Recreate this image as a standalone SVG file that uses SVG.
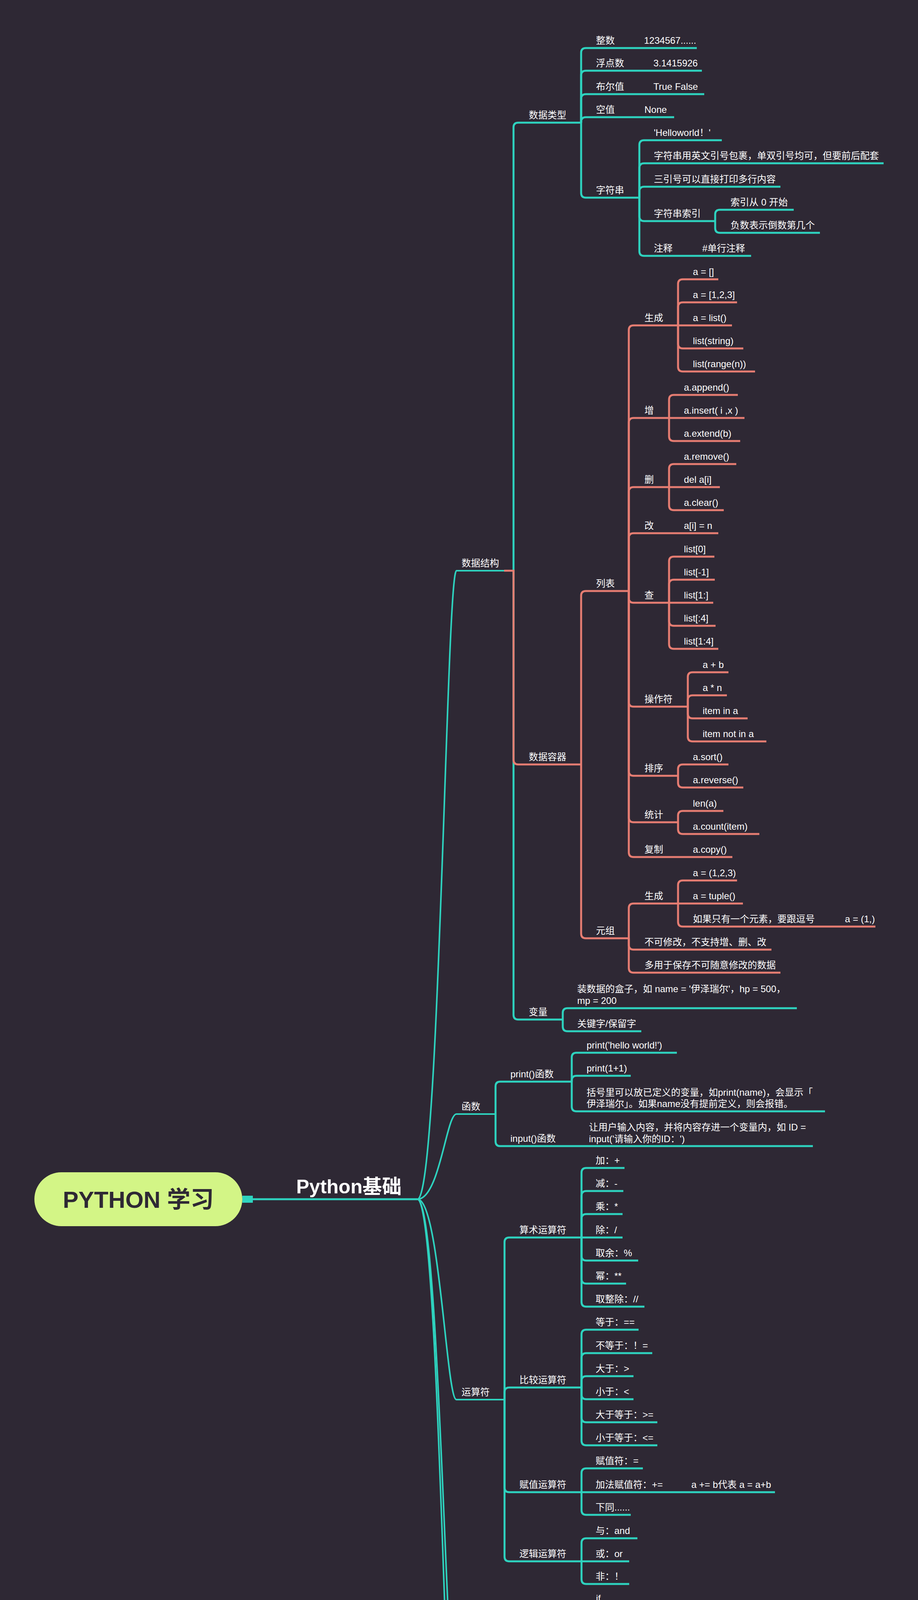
<svg xmlns="http://www.w3.org/2000/svg" width="2349" height="4769" viewBox="0 0 2349 4769">
<style>
.t{font-family:"Liberation Sans","Noto Sans CJK SC",sans-serif;font-size:24px;fill:#ffffff}
.c{fill:none;stroke:#2ed3bf;stroke-width:5}
.s{stroke:#e67d72}
.b{stroke-width:4}
</style>
<rect width="2349" height="4769" fill="#2e2834"/>
<g id="connectors">
<rect x="620" y="3061" width="27" height="18" fill="#2ed3bf"/>
<path class="c" d="M640,3070 H1068"/>
<path class="c b" d="M1068,3070 C1125,3070 1142,1461 1168,1461 H1314"/>
<path class="c b" d="M1068,3070 C1125,3070 1142,2852 1168,2852 H1268"/>
<path class="c b" d="M1068,3070 C1125,3070 1142,3583 1168,3583 H1291"/>
<path class="c b" d="M1068,3070 C1125,3070 1142,4391 1168,4391 H1315"/>
<path class="c b" d="M1068,3070 C1125,3070 1142,4677 1168,4677 H1361"/>
<path class="c" d="M1314,1461 V326 Q1314,314 1326,314 H1487"/>
<path class="c" d="M1314,1461 V2598 Q1314,2610 1326,2610 H1440"/>
<path class="c" d="M1487,314 V135 Q1487,123 1499,123 H1783"/>
<path class="c" d="M1487,314 V193 Q1487,181 1499,181 H1796"/>
<path class="c" d="M1487,314 V253 Q1487,241 1499,241 H1802"/>
<path class="c" d="M1487,314 V312 Q1487,300 1499,300 H1725"/>
<path class="c" d="M1487,314 V494 Q1487,506 1499,506 H1636"/>
<path class="c" d="M1636,506 V371 Q1636,359 1648,359 H1847"/>
<path class="c" d="M1636,506 V430 Q1636,418 1648,418 H2261"/>
<path class="c" d="M1636,506 V490 Q1636,478 1648,478 H1997"/>
<path class="c" d="M1636,506 V554 Q1636,566 1648,566 H1830"/>
<path class="c" d="M1636,506 V643 Q1636,655 1648,655 H1922"/>
<path class="c" d="M1830,566 V549 Q1830,537 1842,537 H2031"/>
<path class="c" d="M1830,566 V584 Q1830,596 1842,596 H2098"/>
<path class="c" d="M1440,2610 V2593 Q1440,2581 1452,2581 H2039"/>
<path class="c" d="M1440,2610 V2628 Q1440,2640 1452,2640 H1641"/>
<path class="c" d="M1268,2852 V2781 Q1268,2769 1280,2769 H1463"/>
<path class="c" d="M1268,2852 V2922 Q1268,2934 1280,2934 H2080"/>
<path class="c" d="M1463,2769 V2707 Q1463,2695 1475,2695 H1732"/>
<path class="c" d="M1463,2769 V2766 Q1463,2754 1475,2754 H1614"/>
<path class="c" d="M1463,2769 V2833 Q1463,2845 1475,2845 H2111"/>
<path class="c" d="M1291,3583 V3180 Q1291,3168 1303,3168 H1488"/>
<path class="c" d="M1291,3583 V3564 Q1291,3552 1303,3552 H1488"/>
<path class="c" d="M1291,3583 V3808 Q1291,3820 1303,3820 H1488"/>
<path class="c" d="M1291,3583 V3985 Q1291,3997 1303,3997 H1488"/>
<path class="c" d="M1488,3168 V3002 Q1488,2990 1500,2990 H1598"/>
<path class="c" d="M1488,3168 V3061 Q1488,3049 1500,3049 H1595"/>
<path class="c" d="M1488,3168 V3120 Q1488,3108 1500,3108 H1593"/>
<path class="c" d="M1488,3168 H1593"/>
<path class="c" d="M1488,3168 V3215 Q1488,3227 1500,3227 H1633"/>
<path class="c" d="M1488,3168 V3274 Q1488,3286 1500,3286 H1602"/>
<path class="c" d="M1488,3168 V3333 Q1488,3345 1500,3345 H1649"/>
<path class="c" d="M1488,3552 V3416 Q1488,3404 1500,3404 H1634"/>
<path class="c" d="M1488,3552 V3476 Q1488,3464 1500,3464 H1669"/>
<path class="c" d="M1488,3552 V3535 Q1488,3523 1500,3523 H1621"/>
<path class="c" d="M1488,3552 V3570 Q1488,3582 1500,3582 H1621"/>
<path class="c" d="M1488,3552 V3629 Q1488,3641 1500,3641 H1682"/>
<path class="c" d="M1488,3552 V3688 Q1488,3700 1500,3700 H1682"/>
<path class="c" d="M1488,3820 V3771 Q1488,3759 1500,3759 H1645"/>
<path class="c" d="M1488,3820 H1983"/>
<path class="c" d="M1488,3820 V3866 Q1488,3878 1500,3878 H1614"/>
<path class="c" d="M1488,3997 V3950 Q1488,3938 1500,3938 H1631"/>
<path class="c" d="M1488,3997 H1610"/>
<path class="c" d="M1488,3997 V4043 Q1488,4055 1500,4055 H1610"/>
<path class="c" d="M1315,4391 V4260 Q1315,4248 1327,4248 H1487"/>
<path class="c" d="M1315,4391 V4520 Q1315,4532 1327,4532 H1440"/>
<path class="c" d="M1487,4248 V4123 Q1487,4111 1499,4111 H1552"/>
<path class="c" d="M1487,4248 V4314 Q1487,4326 1499,4326 H1832"/>
<path class="c" d="M1487,4248 V4373 Q1487,4385 1499,4385 H1583"/>
<path class="c" d="M1440,4532 V4456 Q1440,4444 1452,4444 H1891"/>
<path class="c" d="M1440,4532 V4516 Q1440,4504 1452,4504 H2069"/>
<path class="c" d="M1440,4532 V4551 Q1440,4563 1452,4563 H1729"/>
<path class="c" d="M1440,4532 V4610 Q1440,4622 1452,4622 H1815"/>
<path class="c s" d="M1290,1461 H1314 V1945 Q1314,1957 1326,1957 H1487"/>
<path class="c s" d="M1487,1957 V1525 Q1487,1513 1499,1513 H1609"/>
<path class="c s" d="M1487,1957 V2390 Q1487,2402 1499,2402 H1609"/>
<path class="c s" d="M1609,1513 V845 Q1609,833 1621,833 H1735"/>
<path class="c s" d="M1609,1513 V1082 Q1609,1070 1621,1070 H1712"/>
<path class="c s" d="M1609,1513 V1259 Q1609,1247 1621,1247 H1712"/>
<path class="c s" d="M1609,1513 V1377 Q1609,1365 1621,1365 H1838"/>
<path class="c s" d="M1609,1513 V1531 Q1609,1543 1621,1543 H1712"/>
<path class="c s" d="M1609,1513 V1797 Q1609,1809 1621,1809 H1760"/>
<path class="c s" d="M1609,1513 V1974 Q1609,1986 1621,1986 H1735"/>
<path class="c s" d="M1609,1513 V2093 Q1609,2105 1621,2105 H1735"/>
<path class="c s" d="M1609,1513 V2182 Q1609,2194 1621,2194 H1874"/>
<path class="c s" d="M1735,833 V727 Q1735,715 1747,715 H1838"/>
<path class="c s" d="M1735,833 V786 Q1735,774 1747,774 H1886"/>
<path class="c s" d="M1735,833 H1873"/>
<path class="c s" d="M1735,833 V880 Q1735,892 1747,892 H1902"/>
<path class="c s" d="M1735,833 V939 Q1735,951 1747,951 H1932"/>
<path class="c s" d="M1712,1070 V1023 Q1712,1011 1724,1011 H1888"/>
<path class="c s" d="M1712,1070 H1905"/>
<path class="c s" d="M1712,1070 V1117 Q1712,1129 1724,1129 H1894"/>
<path class="c s" d="M1712,1247 V1200 Q1712,1188 1724,1188 H1884"/>
<path class="c s" d="M1712,1247 H1842"/>
<path class="c s" d="M1712,1247 V1294 Q1712,1306 1724,1306 H1852"/>
<path class="c s" d="M1712,1543 V1437 Q1712,1425 1724,1425 H1828"/>
<path class="c s" d="M1712,1543 V1496 Q1712,1484 1724,1484 H1829"/>
<path class="c s" d="M1712,1543 H1825"/>
<path class="c s" d="M1712,1543 V1590 Q1712,1602 1724,1602 H1831"/>
<path class="c s" d="M1712,1543 V1649 Q1712,1661 1724,1661 H1838"/>
<path class="c s" d="M1760,1809 V1733 Q1760,1721 1772,1721 H1864"/>
<path class="c s" d="M1760,1809 V1792 Q1760,1780 1772,1780 H1860"/>
<path class="c s" d="M1760,1809 V1827 Q1760,1839 1772,1839 H1913"/>
<path class="c s" d="M1760,1809 V1886 Q1760,1898 1772,1898 H1961"/>
<path class="c s" d="M1735,1986 V1969 Q1735,1957 1747,1957 H1864"/>
<path class="c s" d="M1735,1986 V2004 Q1735,2016 1747,2016 H1902"/>
<path class="c s" d="M1735,2105 V2088 Q1735,2076 1747,2076 H1851"/>
<path class="c s" d="M1735,2105 V2123 Q1735,2135 1747,2135 H1943"/>
<path class="c s" d="M1609,2402 V2325 Q1609,2313 1621,2313 H1735"/>
<path class="c s" d="M1609,2402 V2419 Q1609,2431 1621,2431 H1974"/>
<path class="c s" d="M1609,2402 V2478 Q1609,2490 1621,2490 H1997"/>
<path class="c s" d="M1735,2313 V2266 Q1735,2254 1747,2254 H1886"/>
<path class="c s" d="M1735,2313 H1901"/>
<path class="c s" d="M1735,2313 V2360 Q1735,2372 1747,2372 H2240"/>
</g>
<g id="root">
<rect x="88" y="3001" width="532" height="138" rx="69" fill="#d3f586"/>
<text x="354" y="3092" text-anchor="middle" style="font-family:'Liberation Sans','Noto Sans CJK SC',sans-serif;font-size:60px;font-weight:700;fill:#2e2834">PYTHON 学习</text>
</g>
<g id="python-basics"><text x="758" y="3055" style="font-family:'Liberation Sans','Noto Sans CJK SC',sans-serif;font-size:50px;font-weight:700;fill:#ffffff">Python基础</text></g>
<g id="data-structure"><text class="t" x="1181" y="1450">数据结构</text></g>
<g id="data-types"><text class="t" x="1353" y="303">数据类型</text></g>
<g id="int"><text class="t" x="1525" y="112">整数</text><text class="t" x="1648" y="112">1234567......</text></g>
<g id="float"><text class="t" x="1525" y="170">浮点数</text><text class="t" x="1672" y="170">3.1415926</text></g>
<g id="bool"><text class="t" x="1525" y="230">布尔值</text><text class="t" x="1672" y="230">True False</text></g>
<g id="none"><text class="t" x="1525" y="289">空值</text><text class="t" x="1649" y="289">None</text></g>
<g id="string"><text class="t" x="1525" y="495">字符串</text></g>
<g id="str-hello"><text class="t" x="1673" y="348">'Helloworld！'</text></g>
<g id="str-quote"><text class="t" x="1673" y="407">字符串用英文引号包裹，单双引号均可，但要前后配套</text></g>
<g id="str-triple"><text class="t" x="1673" y="467">三引号可以直接打印多行内容</text></g>
<g id="str-index"><text class="t" x="1673" y="555">字符串索引</text></g>
<g id="idx-zero"><text class="t" x="1869" y="526">索引从 0 开始</text></g>
<g id="idx-neg"><text class="t" x="1869" y="585">负数表示倒数第几个</text></g>
<g id="comment"><text class="t" x="1673" y="644">注释</text><text class="t" x="1797" y="644">#单行注释</text></g>
<g id="container"><text class="t" x="1353" y="1946">数据容器</text></g>
<g id="list"><text class="t" x="1525" y="1502">列表</text></g>
<g id="list-gen"><text class="t" x="1649" y="822">生成</text></g>
<g id="lg1"><text class="t" x="1773" y="704">a = []</text></g>
<g id="lg2"><text class="t" x="1773" y="763">a = [1,2,3]</text></g>
<g id="lg3"><text class="t" x="1773" y="822">a = list()</text></g>
<g id="lg4"><text class="t" x="1773" y="881">list(string)</text></g>
<g id="lg5"><text class="t" x="1773" y="940">list(range(n))</text></g>
<g id="list-add"><text class="t" x="1649" y="1059">增</text></g>
<g id="la1"><text class="t" x="1750" y="1000">a.append()</text></g>
<g id="la2"><text class="t" x="1750" y="1059">a.insert( i ,x )</text></g>
<g id="la3"><text class="t" x="1750" y="1118">a.extend(b)</text></g>
<g id="list-del"><text class="t" x="1649" y="1236">删</text></g>
<g id="ld1"><text class="t" x="1750" y="1177">a.remove()</text></g>
<g id="ld2"><text class="t" x="1750" y="1236">del a[i]</text></g>
<g id="ld3"><text class="t" x="1750" y="1295">a.clear()</text></g>
<g id="list-mod"><text class="t" x="1649" y="1354">改</text><text class="t" x="1750" y="1354">a[i] = n</text></g>
<g id="list-find"><text class="t" x="1649" y="1532">查</text></g>
<g id="lf1"><text class="t" x="1750" y="1414">list[0]</text></g>
<g id="lf2"><text class="t" x="1750" y="1473">list[-1]</text></g>
<g id="lf3"><text class="t" x="1750" y="1532">list[1:]</text></g>
<g id="lf4"><text class="t" x="1750" y="1591">list[:4]</text></g>
<g id="lf5"><text class="t" x="1750" y="1650">list[1:4]</text></g>
<g id="list-op"><text class="t" x="1649" y="1798">操作符</text></g>
<g id="lo1"><text class="t" x="1798" y="1710">a + b</text></g>
<g id="lo2"><text class="t" x="1798" y="1769">a * n</text></g>
<g id="lo3"><text class="t" x="1798" y="1828">item in a</text></g>
<g id="lo4"><text class="t" x="1798" y="1887">item not in a</text></g>
<g id="list-sort"><text class="t" x="1649" y="1975">排序</text></g>
<g id="ls1"><text class="t" x="1773" y="1946">a.sort()</text></g>
<g id="ls2"><text class="t" x="1773" y="2005">a.reverse()</text></g>
<g id="list-count"><text class="t" x="1649" y="2094">统计</text></g>
<g id="lc1"><text class="t" x="1773" y="2065">len(a)</text></g>
<g id="lc2"><text class="t" x="1773" y="2124">a.count(item)</text></g>
<g id="list-copy"><text class="t" x="1649" y="2183">复制</text><text class="t" x="1773" y="2183">a.copy()</text></g>
<g id="tuple"><text class="t" x="1525" y="2391">元组</text></g>
<g id="tuple-gen"><text class="t" x="1649" y="2302">生成</text></g>
<g id="tg1"><text class="t" x="1773" y="2243">a = (1,2,3)</text></g>
<g id="tg2"><text class="t" x="1773" y="2302">a = tuple()</text></g>
<g id="tg3"><text class="t" x="1773" y="2361">如果只有一个元素，要跟逗号</text><text class="t" x="2162" y="2361">a = (1,)</text></g>
<g id="tuple-imm"><text class="t" x="1649" y="2420">不可修改，不支持增、删、改</text></g>
<g id="tuple-use"><text class="t" x="1649" y="2479">多用于保存不可随意修改的数据</text></g>
<g id="variable"><text class="t" x="1353" y="2599">变量</text></g>
<g id="var-box"><text class="t" x="1477" y="2540">装数据的盒子，如 name = '伊泽瑞尔'，hp = 500，</text><text class="t" x="1477" y="2570">mp = 200</text></g>
<g id="var-kw"><text class="t" x="1477" y="2629">关键字/保留字</text></g>
<g id="function"><text class="t" x="1181" y="2841">函数</text></g>
<g id="print-fn"><text class="t" x="1306" y="2758">print()函数</text></g>
<g id="pf1"><text class="t" x="1501" y="2684">print('hello world!')</text></g>
<g id="pf2"><text class="t" x="1501" y="2743">print(1+1)</text></g>
<g id="pf3"><text class="t" x="1501" y="2805">括号里可以放已定义的变量，如print(name)，会显示「</text><text class="t" x="1501" y="2834">伊泽瑞尔」。如果name没有提前定义，则会报错。</text></g>
<g id="input-fn"><text class="t" x="1306" y="2923">input()函数</text></g>
<g id="if1"><text class="t" x="1507" y="2894">让用户输入内容，并将内容存进一个变量内，如 ID =</text><text class="t" x="1507" y="2924">input('请输入你的ID：')</text></g>
<g id="operators"><text class="t" x="1181" y="3572">运算符</text></g>
<g id="arith"><text class="t" x="1329" y="3157">算术运算符</text></g>
<g id="ar1"><text class="t" x="1524" y="2979">加：+</text></g>
<g id="ar2"><text class="t" x="1524" y="3038">减：-</text></g>
<g id="ar3"><text class="t" x="1524" y="3097">乘：*</text></g>
<g id="ar4"><text class="t" x="1524" y="3157">除：/</text></g>
<g id="ar5"><text class="t" x="1524" y="3216">取余：%</text></g>
<g id="ar6"><text class="t" x="1524" y="3275">幂：**</text></g>
<g id="ar7"><text class="t" x="1524" y="3334">取整除：//</text></g>
<g id="compare"><text class="t" x="1329" y="3541">比较运算符</text></g>
<g id="cp1"><text class="t" x="1524" y="3393">等于：==</text></g>
<g id="cp2"><text class="t" x="1524" y="3453">不等于：！=</text></g>
<g id="cp3"><text class="t" x="1524" y="3512">大于：&gt;</text></g>
<g id="cp4"><text class="t" x="1524" y="3571">小于：&lt;</text></g>
<g id="cp5"><text class="t" x="1524" y="3630">大于等于：&gt;=</text></g>
<g id="cp6"><text class="t" x="1524" y="3689">小于等于：&lt;=</text></g>
<g id="assign"><text class="t" x="1329" y="3809">赋值运算符</text></g>
<g id="as1"><text class="t" x="1524" y="3748">赋值符：=</text></g>
<g id="as2"><text class="t" x="1524" y="3809">加法赋值符：+=</text><text class="t" x="1769" y="3809">a += b代表 a = a+b</text></g>
<g id="as3"><text class="t" x="1524" y="3867">下同......</text></g>
<g id="logic"><text class="t" x="1329" y="3986">逻辑运算符</text></g>
<g id="lg-and"><text class="t" x="1524" y="3927">与：and</text></g>
<g id="lg-or"><text class="t" x="1524" y="3986">或：or</text></g>
<g id="lg-not"><text class="t" x="1524" y="4044">非：！</text></g>
<g id="flow"><text class="t" x="1181" y="4380">流程控制</text></g>
<g id="cond"><text class="t" x="1353" y="4237">条件判断</text></g>
<g id="c-if"><text class="t" x="1525" y="4100">if</text></g>
<g id="c-elif"><text class="t" x="1525" y="4315">elif</text>
<text class="t" x="1637" y="4159">if a &gt; 10:</text>
<text class="t" x="1663" y="4191">print('a &gt; 10')</text>
<text class="t" x="1637" y="4222">elif a == 10:</text>
<text class="t" x="1663" y="4253">print('a == 10')</text>
<text class="t" x="1637" y="4285">else:</text>
<text class="t" x="1663" y="4316">print('a &lt; 10')</text></g>
<g id="c-else"><text class="t" x="1525" y="4374">else</text></g>
<g id="loop"><text class="t" x="1353" y="4521">循环</text></g>
<g id="lp-for"><text class="t" x="1477" y="4433">for 循环</text><text class="t" x="1640" y="4433">指定次数，循环若干次</text></g>
<g id="lp-while"><text class="t" x="1477" y="4493">while 循环</text><text class="t" x="1672" y="4493">指定条件，条件满足就一直循环下去</text></g>
<g id="lp-break"><text class="t" x="1477" y="4552">break</text><text class="t" x="1621" y="4552">停止循环</text></g>
<g id="lp-cont"><text class="t" x="1477" y="4611">continue</text><text class="t" x="1660" y="4611">跳过这轮循环</text></g>
<g id="files"><text class="t" x="1181" y="4666">创建和执行文件</text></g>
</svg>
